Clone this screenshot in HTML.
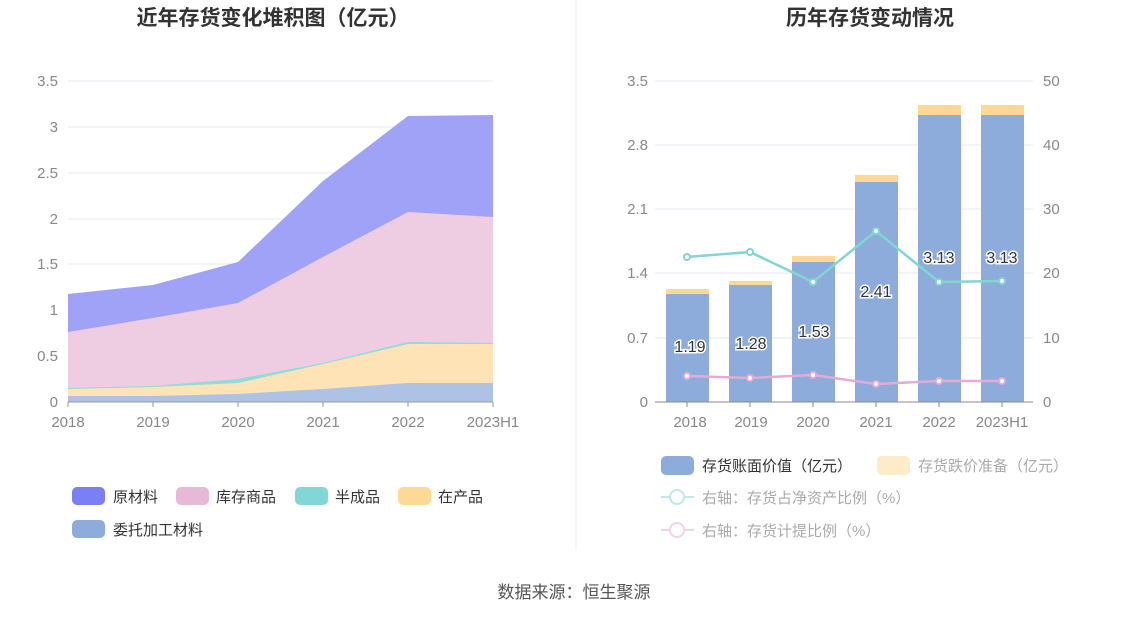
<!DOCTYPE html>
<html><head><meta charset="utf-8"><style>
body{margin:0;background:#fff;}
svg{display:block;font-family:"Liberation Sans","Noto Sans CJK SC",sans-serif;}
</style></head><body>
<svg width="1148" height="619" viewBox="0 0 1148 619">
<text x="273" y="25" text-anchor="middle" font-size="21" font-weight="bold" fill="#333">近年存货变化堆积图（亿元）</text>
<text x="870" y="25" text-anchor="middle" font-size="21" font-weight="bold" fill="#333">历年存货变动情况</text>
<line x1="576" y1="0" x2="576" y2="550" stroke="#eee"/>
<!-- left grid -->
<g stroke="#e6e9f2" stroke-width="1">
<line x1="68" y1="81" x2="493" y2="81"/><line x1="68" y1="127" x2="493" y2="127"/><line x1="68" y1="173" x2="493" y2="173"/><line x1="68" y1="219" x2="493" y2="219"/><line x1="68" y1="264" x2="493" y2="264"/><line x1="68" y1="310" x2="493" y2="310"/><line x1="68" y1="356" x2="493" y2="356"/>
</g>
<g font-size="15" fill="#888" text-anchor="end">
<text x="58" y="86">3.5</text><text x="58" y="132">3</text><text x="58" y="178">2.5</text><text x="58" y="224">2</text><text x="58" y="269">1.5</text><text x="58" y="315">1</text><text x="58" y="361">0.5</text><text x="58" y="407">0</text>
</g>
<polygon fill="#a0a2f8" points="68,294 153,285 238,262 323,181 408,116 493,115 493,402 68,402"/>
<polygon fill="#eecde3" points="68,332 153,318 238,303 323,257 408,212 493,217 493,402 68,402"/>
<polygon fill="#8fdcd8" points="68,388 153,386 238,379 323,363 408,342 493,343 493,402 68,402"/>
<polygon fill="#fde3b6" points="68,389 153,387 238,383 323,364 408,344 493,344 493,402 68,402"/>
<polygon fill="#adc2e4" points="68,396 153,396 238,394 323,389 408,383 493,383 493,402 68,402"/>
<line x1="68" y1="402" x2="493" y2="402" stroke="#999"/>
<g stroke="#999"><line x1="68" y1="402" x2="68" y2="407"/><line x1="153" y1="402" x2="153" y2="407"/><line x1="238" y1="402" x2="238" y2="407"/><line x1="323" y1="402" x2="323" y2="407"/><line x1="408" y1="402" x2="408" y2="407"/><line x1="493" y1="402" x2="493" y2="407"/></g>
<g font-size="15" fill="#888" text-anchor="middle">
<text x="68" y="427">2018</text><text x="153" y="427">2019</text><text x="238" y="427">2020</text><text x="323" y="427">2021</text><text x="408" y="427">2022</text><text x="493" y="427">2023H1</text>
</g>
<!-- left legend -->
<g font-size="15" fill="#333">
<rect x="72" y="487" width="33" height="18" rx="5" fill="#7b7ff5"/><text x="113" y="502">原材料</text>
<rect x="176" y="487" width="33" height="18" rx="5" fill="#e8b8d8"/><text x="216" y="502">库存商品</text>
<rect x="295" y="487" width="33" height="18" rx="5" fill="#82d6d6"/><text x="335" y="502">半成品</text>
<rect x="398" y="487" width="33" height="18" rx="5" fill="#fed996"/><text x="438" y="502">在产品</text>
<rect x="72" y="520" width="33" height="18" rx="5" fill="#8eacdb"/><text x="113" y="535">委托加工材料</text>
</g>
<!-- right grid -->
<g stroke="#e6e9f2"><line x1="655" y1="81" x2="1033" y2="81"/><line x1="655" y1="145" x2="1033" y2="145"/><line x1="655" y1="209" x2="1033" y2="209"/><line x1="655" y1="273" x2="1033" y2="273"/><line x1="655" y1="338" x2="1033" y2="338"/></g>
<g font-size="15" fill="#888" text-anchor="end">
<text x="648" y="86">3.5</text><text x="648" y="150">2.8</text><text x="648" y="214">2.1</text><text x="648" y="278">1.4</text><text x="648" y="343">0.7</text><text x="648" y="407">0</text>
</g>
<g font-size="15" fill="#888">
<text x="1043" y="86">50</text><text x="1043" y="150">40</text><text x="1043" y="214">30</text><text x="1043" y="278">20</text><text x="1043" y="343">10</text><text x="1043" y="407">0</text>
</g>
<g fill="#fed996">
<rect x="666" y="289" width="43" height="5"/><rect x="729" y="281" width="43" height="4"/><rect x="792" y="256" width="43" height="6"/><rect x="855" y="175" width="43" height="7"/><rect x="918" y="105" width="43" height="10"/><rect x="981" y="105" width="43" height="10"/>
</g>
<g fill="#8eacdb">
<rect x="666" y="294" width="43" height="108"/><rect x="729" y="285" width="43" height="117"/><rect x="792" y="262" width="43" height="140"/><rect x="855" y="182" width="43" height="220"/><rect x="918" y="115" width="43" height="287"/><rect x="981" y="115" width="43" height="287"/>
</g>
<line x1="655" y1="402" x2="1033" y2="402" stroke="#888"/>
<g stroke="#888"><line x1="687" y1="402" x2="687" y2="407"/><line x1="750" y1="402" x2="750" y2="407"/><line x1="813" y1="402" x2="813" y2="407"/><line x1="876" y1="402" x2="876" y2="407"/><line x1="939" y1="402" x2="939" y2="407"/><line x1="1002" y1="402" x2="1002" y2="407"/></g>
<polyline fill="none" stroke="#7fd6d3" stroke-width="2.5" points="687,257 750,252 813,282 876,231 939,282 1002,281"/>
<polyline fill="none" stroke="#e2acd6" stroke-width="2.5" points="687,376 750,378 813,375 876,384 939,381 1002,381"/>
<g fill="#fff" stroke="#7fd6d3" stroke-width="2"><circle cx="687" cy="257" r="3"/><circle cx="750" cy="252" r="3"/><circle cx="813" cy="282" r="3"/><circle cx="876" cy="231" r="3"/><circle cx="939" cy="282" r="3"/><circle cx="1002" cy="281" r="3"/></g>
<g fill="#fff" stroke="#e2acd6" stroke-width="2"><circle cx="687" cy="376" r="3"/><circle cx="750" cy="378" r="3"/><circle cx="813" cy="375" r="3"/><circle cx="876" cy="384" r="3"/><circle cx="939" cy="381" r="3"/><circle cx="1002" cy="381" r="3"/></g>
<g font-size="16" fill="#333" text-anchor="middle" stroke="#fff" stroke-width="3" paint-order="stroke">
<text x="690" y="352">1.19</text><text x="751" y="349">1.28</text><text x="814" y="337">1.53</text><text x="876" y="297">2.41</text><text x="939" y="263">3.13</text><text x="1002" y="263">3.13</text>
</g>
<g font-size="15" fill="#888" text-anchor="middle">
<text x="690" y="427">2018</text><text x="751" y="427">2019</text><text x="813" y="427">2020</text><text x="876" y="427">2021</text><text x="939" y="427">2022</text><text x="1002" y="427">2023H1</text>
</g>
<!-- right legend -->
<g font-size="15">
<rect x="661" y="456" width="33" height="19" rx="5" fill="#8eacdb"/><text x="702" y="471" fill="#333">存货账面价值（亿元）</text>
<rect x="877" y="456" width="33" height="19" rx="5" fill="#feecc9"/><text x="918" y="471" fill="#aaa">存货跌价准备（亿元）</text>
<line x1="661" y1="497" x2="694" y2="497" stroke="#bfe9e8" stroke-width="2"/><circle cx="677" cy="497" r="7" fill="#fff" stroke="#bfe9e8" stroke-width="2"/><text x="702" y="503" fill="#aaa">右轴：存货占净资产比例（%）</text>
<line x1="661" y1="530" x2="694" y2="530" stroke="#f1d3e8" stroke-width="2"/><circle cx="677" cy="530" r="7" fill="#fff" stroke="#f1d3e8" stroke-width="2"/><text x="702" y="536" fill="#aaa">右轴：存货计提比例（%）</text>
</g>
<text x="574" y="598" text-anchor="middle" font-size="17" fill="#555">数据来源：恒生聚源</text>
</svg>
</body></html>
